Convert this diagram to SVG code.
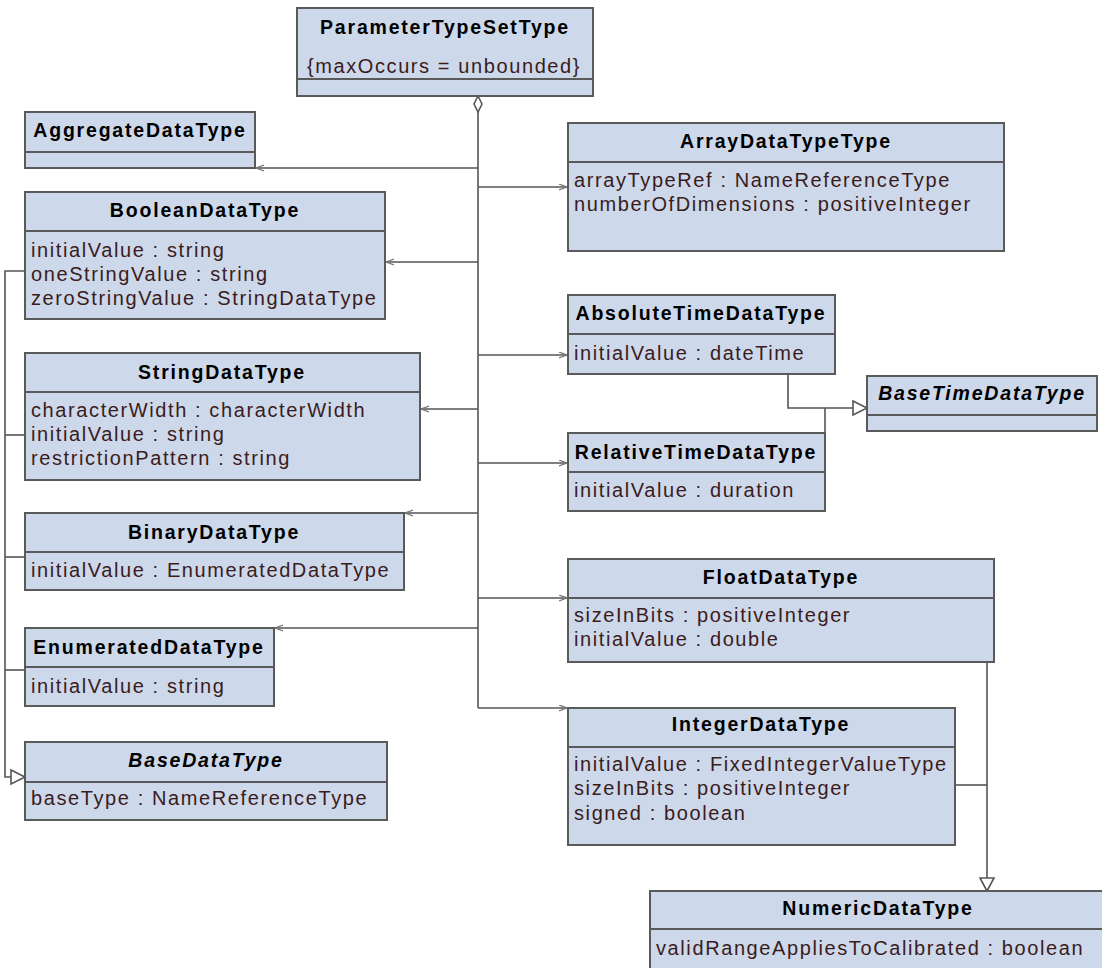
<svg xmlns="http://www.w3.org/2000/svg" width="1102" height="968" viewBox="0 0 1102 968">
<style>
  .box rect { fill: #CDD8EA; stroke: #5A5A5A; stroke-width: 2; }
  .box line { stroke: #5A5A5A; stroke-width: 2; }
  .t { font-family: "Liberation Sans", Arial, sans-serif; font-size: 19.5px; font-weight: bold; fill: #000; text-anchor: middle; letter-spacing: 1.8px; }
  .ti { font-style: italic; }
  .a { font-family: "Liberation Sans", Arial, sans-serif; font-size: 20px; fill: #3A1C1C; letter-spacing: 1.6px; }
  .c { fill: none; stroke: #555; stroke-width: 1.6; }
  .nav { marker-end: url(#open); }
</style>
<defs>
  <marker id="open" markerWidth="10" markerHeight="8" refX="8" refY="3.5" orient="auto" markerUnits="userSpaceOnUse">
    <path d="M0,0.5 L8,3.5 L0,6.5" fill="none" stroke="#777" stroke-width="1.3"/>
  </marker>
</defs>
<rect width="1102" height="968" fill="#fff"/>

<g id="connectors">
  <line class="c" x1="478" y1="112" x2="478" y2="708"/>
  <polygon points="478,96 482,104 478,112 474,104" fill="#fff" stroke="#555" stroke-width="1.6"/>
  <line class="c nav" x1="478" y1="168" x2="256" y2="168"/>
  <line class="c nav" x1="478" y1="262" x2="386" y2="262"/>
  <line class="c nav" x1="478" y1="409" x2="421" y2="409"/>
  <line class="c nav" x1="478" y1="513" x2="405" y2="513"/>
  <line class="c nav" x1="478" y1="628" x2="275" y2="628"/>
  <line class="c nav" x1="478" y1="187" x2="567" y2="187"/>
  <line class="c nav" x1="478" y1="355" x2="567" y2="355"/>
  <line class="c nav" x1="478" y1="463" x2="567" y2="463"/>
  <line class="c nav" x1="478" y1="598" x2="567" y2="598"/>
  <line class="c nav" x1="478" y1="708" x2="567" y2="708"/>
  <polyline class="c" points="25,271 5,271 5,777 11,777"/>
  <line class="c" x1="25" y1="435" x2="5" y2="435"/>
  <line class="c" x1="25" y1="557" x2="5" y2="557"/>
  <line class="c" x1="25" y1="670" x2="5" y2="670"/>
  <polygon points="11,770 25,777 11,784" fill="#fff" stroke="#555" stroke-width="1.6"/>
  <polyline class="c" points="788,374 788,408 853,408"/>
  <line class="c" x1="825" y1="433" x2="825" y2="408"/>
  <polygon points="853,401 867,408 853,415" fill="#fff" stroke="#555" stroke-width="1.6"/>
  <line class="c" x1="987" y1="662" x2="987" y2="878"/>
  <line class="c" x1="955" y1="785" x2="987" y2="785"/>
  <polygon points="980,878 994,878 987,891" fill="#fff" stroke="#555" stroke-width="1.6"/>
</g>

<g id="ParameterTypeSetType" class="box">
  <rect x="297" y="8" width="296" height="88"/>
  <line x1="297" y1="79" x2="593" y2="79"/>
  <text class="t" x="445" y="34">ParameterTypeSetType</text>
  <text class="a" x="444" y="73" text-anchor="middle">{maxOccurs = unbounded}</text>
</g>

<g id="AggregateDataType" class="box">
  <rect x="25" y="112" width="230" height="56"/>
  <line x1="25" y1="152" x2="255" y2="152"/>
  <text class="t" x="140" y="137">AggregateDataType</text>
</g>

<g id="BooleanDataType" class="box">
  <rect x="25" y="192" width="360" height="127"/>
  <line x1="25" y1="231" x2="385" y2="231"/>
  <text class="t" x="205" y="217">BooleanDataType</text>
  <text class="a" x="31" y="257">initialValue : string</text>
  <text class="a" x="31" y="281">oneStringValue : string</text>
  <text class="a" x="31" y="305">zeroStringValue : StringDataType</text>
</g>

<g id="StringDataType" class="box">
  <rect x="25" y="353" width="395" height="127"/>
  <line x1="25" y1="392" x2="420" y2="392"/>
  <text class="t" x="222" y="379">StringDataType</text>
  <text class="a" x="31" y="417">characterWidth : characterWidth</text>
  <text class="a" x="31" y="441">initialValue : string</text>
  <text class="a" x="31" y="465">restrictionPattern : string</text>
</g>

<g id="BinaryDataType" class="box">
  <rect x="25" y="513" width="379" height="77"/>
  <line x1="25" y1="552" x2="404" y2="552"/>
  <text class="t" x="214" y="539">BinaryDataType</text>
  <text class="a" x="31" y="577">initialValue : EnumeratedDataType</text>
</g>

<g id="EnumeratedDataType" class="box">
  <rect x="25" y="628" width="249" height="78"/>
  <line x1="25" y1="667" x2="274" y2="667"/>
  <text class="t" x="149" y="654">EnumeratedDataType</text>
  <text class="a" x="31" y="693">initialValue : string</text>
</g>

<g id="BaseDataType" class="box">
  <rect x="25" y="742" width="362" height="78"/>
  <line x1="25" y1="782" x2="387" y2="782"/>
  <text class="t ti" x="206" y="767">BaseDataType</text>
  <text class="a" x="31" y="805">baseType : NameReferenceType</text>
</g>

<g id="ArrayDataTypeType" class="box">
  <rect x="568" y="123" width="436" height="128"/>
  <line x1="568" y1="162" x2="1004" y2="162"/>
  <text class="t" x="786" y="148">ArrayDataTypeType</text>
  <text class="a" x="574" y="187">arrayTypeRef : NameReferenceType</text>
  <text class="a" x="574" y="211">numberOfDimensions : positiveInteger</text>
</g>

<g id="AbsoluteTimeDataType" class="box">
  <rect x="568" y="295" width="267" height="79"/>
  <line x1="568" y1="334" x2="835" y2="334"/>
  <text class="t" x="701" y="320">AbsoluteTimeDataType</text>
  <text class="a" x="574" y="360">initialValue : dateTime</text>
</g>

<g id="BaseTimeDataType" class="box">
  <rect x="867" y="376" width="230" height="55"/>
  <line x1="867" y1="415" x2="1097" y2="415"/>
  <text class="t ti" x="982" y="400">BaseTimeDataType</text>
</g>

<g id="RelativeTimeDataType" class="box">
  <rect x="568" y="433" width="257" height="78"/>
  <line x1="568" y1="472" x2="825" y2="472"/>
  <text class="t" x="696" y="459">RelativeTimeDataType</text>
  <text class="a" x="574" y="497">initialValue : duration</text>
</g>

<g id="FloatDataType" class="box">
  <rect x="568" y="559" width="426" height="103"/>
  <line x1="568" y1="598" x2="994" y2="598"/>
  <text class="t" x="781" y="584">FloatDataType</text>
  <text class="a" x="574" y="622">sizeInBits : positiveInteger</text>
  <text class="a" x="574" y="646">initialValue : double</text>
</g>

<g id="IntegerDataType" class="box">
  <rect x="568" y="708" width="387" height="137"/>
  <line x1="568" y1="747" x2="955" y2="747"/>
  <text class="t" x="761" y="731">IntegerDataType</text>
  <text class="a" x="574" y="771">initialValue : FixedIntegerValueType</text>
  <text class="a" x="574" y="795">sizeInBits : positiveInteger</text>
  <text class="a" x="574" y="820">signed : boolean</text>
</g>

<g id="NumericDataType" class="box">
  <rect x="650" y="891" width="456" height="100"/>
  <line x1="650" y1="929" x2="1106" y2="929"/>
  <text class="t" x="878" y="915">NumericDataType</text>
  <text class="a" x="656" y="955">validRangeAppliesToCalibrated : boolean</text>
</g>
</svg>
